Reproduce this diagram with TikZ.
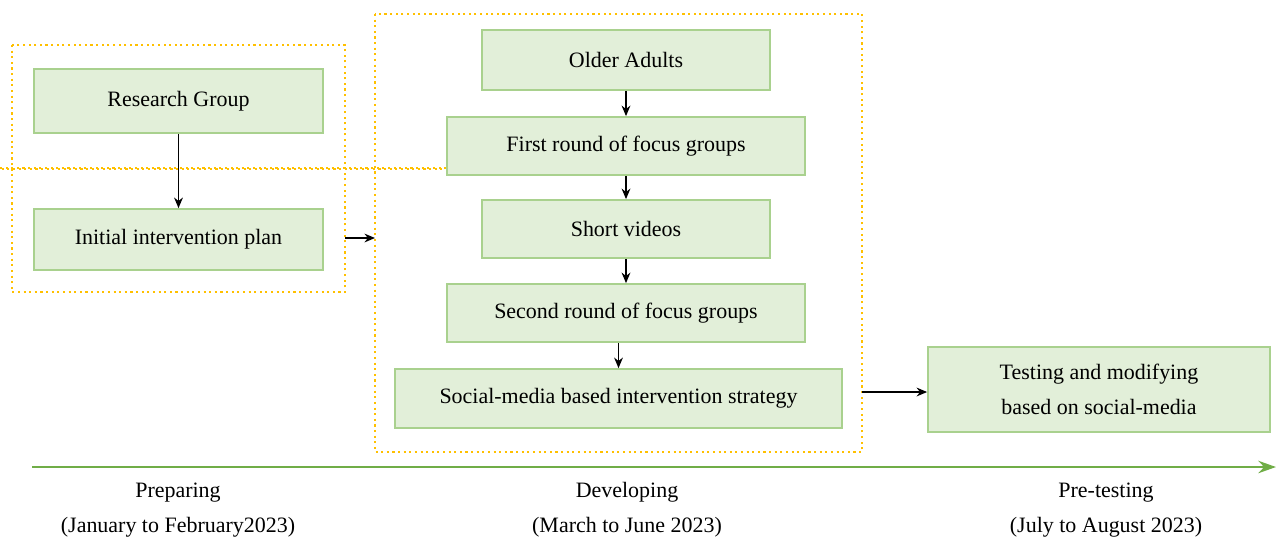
\documentclass[tikz,border=0pt]{standalone}
\usepackage{fontspec}
\setmainfont{Liberation Serif}
\usetikzlibrary{arrows.meta}
\definecolor{boxfill}{HTML}{E2EFD9}
\definecolor{boxline}{HTML}{A9D18E}
\definecolor{frame}{HTML}{FFC000}
\definecolor{tline}{HTML}{70AD47}
\begin{document}
\begin{tikzpicture}[x=0.02cm,y=-0.02cm,
  box/.style={draw=boxline,fill=boxfill,line width=1pt,align=center,font=\fontsize{12.5}{20}\selectfont},
  frm/.style={draw=frame,dotted,line width=1.2pt},
  arr/.style={-{Stealth[length=6pt,width=5pt]},line width=0.8pt},
  lbl/.style={align=center,font=\fontsize{12.5}{20}\selectfont}]
\useasboundingbox (0,0) rectangle (1280,556);
\node[frm,minimum width=333\pgflinewidth,inner sep=0] (F1) at (178.5,168.5) {};
\draw[frm] (12,45) rectangle (345,292);
\draw[frm] (375,14) rectangle (862,452);
\coordinate (F1e) at (345,238);
\coordinate (F2w) at (375,238);
\coordinate (F2e) at (862,392);
\node[box,minimum width=289*0.02cm,minimum height=64*0.02cm] (rg) at (178.5,101) {Research Group};
\node[box,minimum width=289*0.02cm,minimum height=61*0.02cm] (ip) at (178.5,239.5) {Initial intervention plan};
\node[box,minimum width=288*0.02cm,minimum height=60*0.02cm] (oa) at (626,60) {Older Adults};
\node[box,minimum width=358*0.02cm,minimum height=58*0.02cm] (fr) at (626,146) {First round of focus groups};
\node[box,minimum width=288*0.02cm,minimum height=58*0.02cm] (sv) at (626,229) {Short videos};
\node[box,minimum width=358*0.02cm,minimum height=58*0.02cm] (sr) at (626,313) {Second round of focus groups};
\node[box,minimum width=447*0.02cm,minimum height=59*0.02cm] (sm) at (618.5,398.5) {Social-media based intervention strategy};
\node[box,minimum width=342*0.02cm,minimum height=85*0.02cm] (tm) at (1099,389.5) {Testing and modifying\\based on social-media};
\draw[arr] (rg) -- (ip);
\draw[arr] (oa) -- (fr);
\draw[arr] (fr) -- (sv);
\draw[arr] (sv) -- (sr);
\draw[arr] (sr.south -| sm.north) ++(0,0) -- (sm);
\draw[arr] (F1e) -- (F2w);
\draw[arr] (F2e) -- (tm.west |- F2e);
\coordinate (t0) at (32,467);
\coordinate (t1) at (1276,467);
\draw[tline,line width=1.5pt,-{Stealth[length=10pt,width=7pt]}] (t0) -- (t1);
\node[lbl] (l1) at (178,510) {Preparing\\(January to February2023)};
\node[lbl] (l2) at (627,510) {Developing\\(March to June 2023)};
\node[lbl] (l3) at (1106,510) {Pre-testing\\(July to August 2023)};
\end{tikzpicture}
\end{document}
